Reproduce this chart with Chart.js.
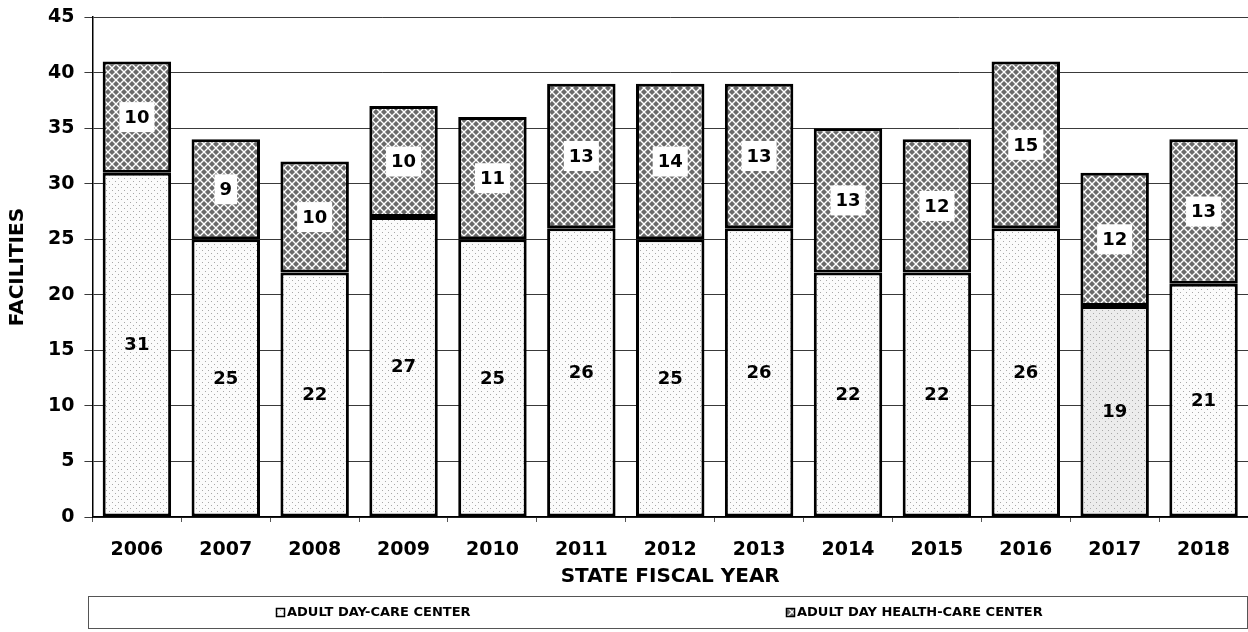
<!DOCTYPE html>
<html>
<head>
<meta charset="utf-8">
<script src="https://cdn.jsdelivr.net/npm/chart.js@4.4.1/dist/chart.umd.min.js"></script>
<style>
  html, body { margin: 0; padding: 0; background: #fff; }
  #wrap { width: 1248px; height: 632px; }
</style>
</head>
<body>
<div id="wrap"><canvas id="chart" width="1248" height="632"></canvas></div>
<script>
// chart values
const years = ["2006", "2007", "2008", "2009", "2010", "2011", "2012", "2013", "2014", "2015", "2016", "2017", "2018"];
const dayCare = [31, 25, 22, 27, 25, 26, 25, 26, 22, 22, 26, 19, 21];
const dayHealthCare = [10, 9, 10, 10, 11, 13, 14, 13, 13, 12, 15, 12, 13];
const seriesNames = ["ADULT DAY-CARE CENTER", "ADULT DAY HEALTH-CARE CENTER"];

const FONT = "'DejaVu Sans', sans-serif";

// fill patterns
function dotPattern(bg) {
  const c = document.createElement("canvas");
  c.width = 6; c.height = 6;
  const g = c.getContext("2d");
  g.fillStyle = bg;
  g.fillRect(0, 0, 6, 6);
  g.fillStyle = "#a8a8a8";
  g.fillRect(1, 1, 1, 1);
  g.fillRect(4, 4, 1, 1);
  return g.createPattern(c, "repeat");
}

function weavePattern() {
  const c = document.createElement("canvas");
  c.width = 8; c.height = 8;
  const g = c.getContext("2d");
  g.fillStyle = "#6a6a6a";
  g.fillRect(0, 0, 8, 8);
  g.strokeStyle = "#ffffff";
  g.lineWidth = 1.4;
  g.beginPath();
  g.moveTo(0, 4); g.lineTo(4, 0);
  g.moveTo(4, 0); g.lineTo(8, 4);
  g.moveTo(0, 4); g.lineTo(4, 8);
  g.moveTo(4, 8); g.lineTo(8, 4);
  g.stroke();
  return g.createPattern(c, "repeat");
}

const lightDots = dotPattern("#fbfbfb");
const grayDots = dotPattern("#ececec");
const weave = weavePattern();
const bottomFills = years.map(y => (y === "2017" ? grayDots : lightDots));

// labels in the middle of each segment
const segmentLabels = {
  id: "segmentLabels",
  afterDatasetsDraw(chart) {
    const ctx = chart.ctx;
    ctx.save();
    ctx.font = "bold 18px " + FONT;
    ctx.textAlign = "center";
    ctx.textBaseline = "middle";
    chart.data.datasets.forEach((ds, di) => {
      chart.getDatasetMeta(di).data.forEach((bar, i) => {
        const x = bar.x;
        const y = (bar.y + bar.base) / 2;
        const txt = String(ds.data[i]);
        if (di === 1) {
          const w = ctx.measureText(txt).width + 10;
          ctx.fillStyle = "#fff";
          ctx.fillRect(x - w / 2, y - 15, w, 30);
        }
        ctx.fillStyle = "#000";
        ctx.fillText(txt, x, y + 1);
      });
    });
    ctx.restore();
  }
};

// boxed legend at the bottom
const boxLegend = {
  id: "boxLegend",
  afterDraw(chart) {
    const ctx = chart.ctx;
    const left = 88, top = 596, right = 1247, bottom = 628;
    ctx.save();
    ctx.strokeStyle = "#555";
    ctx.lineWidth = 1;
    ctx.strokeRect(left + 0.5, top + 0.5, right - left, bottom - top);
    ctx.font = "bold 13px " + FONT;
    ctx.textBaseline = "middle";
    ctx.textAlign = "left";
    const items = [
      { x: 276, fill: lightDots, text: seriesNames[0] },
      { x: 786, fill: weave, text: seriesNames[1] }
    ];
    const cy = (top + bottom) / 2;
    items.forEach(it => {
      ctx.fillStyle = it.fill;
      ctx.fillRect(it.x, cy - 4, 8, 8);
      ctx.strokeStyle = "#000";
      ctx.lineWidth = 1.5;
      ctx.strokeRect(it.x + 0.5, cy - 4 + 0.5, 8, 8);
      ctx.fillStyle = "#000";
      ctx.fillText(it.text, it.x + 11, cy + 1);
    });
    ctx.restore();
  }
};

const ctx = document.getElementById("chart").getContext("2d");

new Chart(ctx, {
  type: "bar",
  data: {
    labels: years,
    datasets: [
      {
        label: seriesNames[0],
        data: dayCare,
        backgroundColor: bottomFills,
        borderColor: "#000",
        borderWidth: 3,
        borderSkipped: false
      },
      {
        label: seriesNames[1],
        data: dayHealthCare,
        backgroundColor: weave,
        borderColor: "#000",
        borderWidth: 3,
        borderSkipped: false
      }
    ]
  },
  options: {
    responsive: false,
    animation: false,
    layout: { padding: { top: 2, right: 0, bottom: 43, left: 6 } },
    datasets: { bar: { barPercentage: 0.77, categoryPercentage: 1 } },
    plugins: {
      legend: { display: false },
      tooltip: { enabled: false }
    },
    scales: {
      x: {
        stacked: true,
        afterFit(scale) { scale.height = 72; },
        grid: { drawOnChartArea: false, color: "#555", tickLength: 5 },
        border: { color: "#000", width: 1.5 },
        ticks: {
          color: "#000",
          font: { family: FONT, size: 19, weight: "bold" },
          padding: 17
        },
        title: {
          display: true,
          text: "STATE FISCAL YEAR",
          color: "#000",
          font: { family: FONT, size: 20, weight: "bold" },
          padding: { top: 0, bottom: 0 }
        }
      },
      y: {
        stacked: true,
        min: 0,
        max: 45,
        ticks: {
          stepSize: 5,
          color: "#000",
          font: { family: FONT, size: 19, weight: "bold", lineHeight: 0.75 },
          padding: 10
        },
        grid: { color: "#3a3a3a", lineWidth: 1, tickLength: 8 },
        border: { color: "#000", width: 1.5 },
        title: {
          display: true,
          text: "FACILITIES",
          color: "#000",
          font: { family: FONT, size: 20, weight: "bold" },
          padding: { top: 0, bottom: 8 }
        }
      }
    }
  },
  plugins: [segmentLabels, boxLegend]
});
</script>
</body>
</html>
